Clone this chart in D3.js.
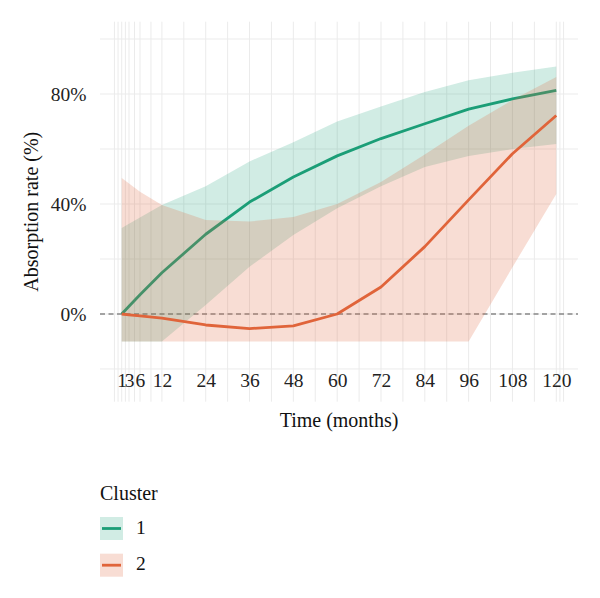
<!DOCTYPE html>
<html lang="en">
<head>
  <meta charset="UTF-8" />
  <title>Absorption rate by cluster</title>
  <style>
    body {
      margin: 0;
      padding: 0;
      background: #ffffff;
    }
    svg text {
      font-family: "Liberation Serif", "DejaVu Serif", serif;
    }
  </style>
</head>
<body>
  <svg id="chart"></svg>

  <script src="https://d3js.org/d3.v7.min.js"></script>
  <script>
    // time points (months)
    const months = [1, 3, 6, 12, 24, 36, 48, 60, 72, 84, 96, 108, 120];

    // cluster 1 (green)
    const c1Mean  = [0, 2.8, 7, 15, 29, 40.7, 49.8, 57.5, 63.8, 69.2, 74.5, 78.2, 81.3];
    const c1Lower = [-10, -10, -10, -10, 3.3, 17.2, 28.7, 38.5, 46.5, 53.5, 57.5, 60, 61.8];
    const c1Upper = [31.3, 32.8, 35.1, 39.6, 46.5, 55.5, 62.5, 70, 75.5, 80.7, 85, 87.7, 90];

    // cluster 2 (orange)
    const c2Mean  = [0, -0.3, -0.7, -1.5, -4, -5.3, -4.3, 0, 9.8, 24.5, 41.5, 58.3, 72.2];
    const c2Lower = [-10, -10, -10, -10, -10, -10, -10, -10, -10, -10, -10, 17, 43.6];
    const c2Upper = [49.5, 47.5, 44.5, 39.6, 34.2, 33.6, 35.3, 40, 48, 58, 68.5, 77.8, 86.2];

    const clusters = ["1", "2"];
    const colors = ["#1b9e77", "#e0643a"];
    const fillAlpha = [0.2, 0.22];

    const xTicks = [1, 3, 6, 12, 24, 36, 48, 60, 72, 84, 96, 108, 120];
    const xMinor = [-1, 0, 2, 4.5, 9, 18, 30, 42, 54, 66, 78, 90, 102, 114, 121, 122];
    const yTicks = [0, 40, 80];
    const yMinor = [-20, 20, 60, 100];

    const W = 600, H = 598;
    const svg = d3.select("#chart").attr("width", W).attr("height", H);

    const x = d3.scaleLinear().domain([-4.95, 125.95]).range([100, 578]);
    const y = d3.scaleLinear().domain([-31.9, 106.3]).range([401.7, 21.7]);

    const grid = svg.append("g");
    // vertical grid
    grid.selectAll(".vx")
      .data(xTicks.concat(xMinor))
      .join("line")
      .attr("x1", d => x(d)).attr("x2", d => x(d))
      .attr("y1", y.range()[1]).attr("y2", y.range()[0])
      .attr("stroke", "#ebebeb")
      .attr("stroke-width", 1);
    // horizontal grid
    grid.selectAll(".hy")
      .data(yTicks.concat(yMinor))
      .join("line")
      .attr("x1", x.range()[0]).attr("x2", x.range()[1])
      .attr("y1", d => y(d)).attr("y2", d => y(d))
      .attr("stroke", "#ebebeb")
      .attr("stroke-width", 1);

    const series = [
      { mean: c1Mean, lo: c1Lower, hi: c1Upper, color: colors[0], alpha: fillAlpha[0] },
      { mean: c2Mean, lo: c2Lower, hi: c2Upper, color: colors[1], alpha: fillAlpha[1] }
    ];

    const area = d3.area()
      .x(d => x(d.t))
      .y0(d => y(d.lo))
      .y1(d => y(d.hi));

    const line = d3.line()
      .x(d => x(d.t))
      .y(d => y(d.v));

    // zero reference line
    svg.append("line")
      .attr("x1", x.range()[0]).attr("x2", x.range()[1])
      .attr("y1", y(0)).attr("y2", y(0))
      .attr("stroke", "#888888")
      .attr("stroke-width", 1.3)
      .attr("stroke-dasharray", "5,3.5");

    // ribbon then line, cluster by cluster (pink ribbon covers green line)
    series.forEach(s => {
      const rows = months.map((t, i) => ({ t, v: s.mean[i], lo: s.lo[i], hi: s.hi[i] }));
      svg.append("path")
        .datum(rows)
        .attr("d", area)
        .attr("fill", s.color)
        .attr("fill-opacity", s.alpha);
      svg.append("path")
        .datum(rows)
        .attr("d", line)
        .attr("fill", "none")
        .attr("stroke", s.color)
        .attr("stroke-width", 2.8)
        .attr("stroke-linejoin", "round");
    });

    // axes
    const xAxis = svg.append("g")
      .attr("transform", `translate(0, ${y.range()[0]})`)
      .call(d3.axisBottom(x).tickValues(xTicks).tickSize(0).tickPadding(0));
    xAxis.select(".domain").remove();
    xAxis.selectAll("text")
      .attr("dy", null)
      .attr("y", 387 - y.range()[0])
      .attr("font-size", "19.5px")
      .attr("fill", "#222");

    const yAxis = svg.append("g")
      .attr("transform", `translate(${x.range()[0]}, 0)`)
      .call(d3.axisLeft(y).tickValues(yTicks).tickSize(0).tickPadding(13.5).tickFormat(d => d + "%"));
    yAxis.select(".domain").remove();
    yAxis.selectAll("text")
      .attr("font-size", "19.5px")
      .attr("fill", "#222");

    // axis titles
    svg.append("text")
      .attr("x", (x.range()[0] + x.range()[1]) / 2)
      .attr("y", 427)
      .attr("text-anchor", "middle")
      .attr("font-size", "20px")
      .attr("fill", "#111")
      .text("Time (months)");

    svg.append("text")
      .attr("transform", `translate(38, ${(y.range()[0] + y.range()[1]) / 2}) rotate(-90)`)
      .attr("text-anchor", "middle")
      .attr("font-size", "20px")
      .attr("fill", "#111")
      .text("Absorption rate (%)");

    // legend
    const legend = svg.append("g");
    legend.append("text")
      .attr("x", 100)
      .attr("y", 500)
      .attr("font-size", "20px")
      .attr("fill", "#111")
      .text("Cluster");

    clusters.forEach((c, i) => {
      const top = 517 + i * 36.7;
      legend.append("rect")
        .attr("x", 100).attr("y", top)
        .attr("width", 23).attr("height", 23)
        .attr("fill", colors[i])
        .attr("fill-opacity", fillAlpha[i]);
      legend.append("line")
        .attr("x1", 102).attr("x2", 121)
        .attr("y1", top + 11.5).attr("y2", top + 11.5)
        .attr("stroke", colors[i])
        .attr("stroke-width", 2.8);
      legend.append("text")
        .attr("x", 136)
        .attr("y", top + 16.5)
        .attr("font-size", "19.5px")
        .attr("fill", "#111")
        .text(c);
    });
  </script>
</body>
</html>
